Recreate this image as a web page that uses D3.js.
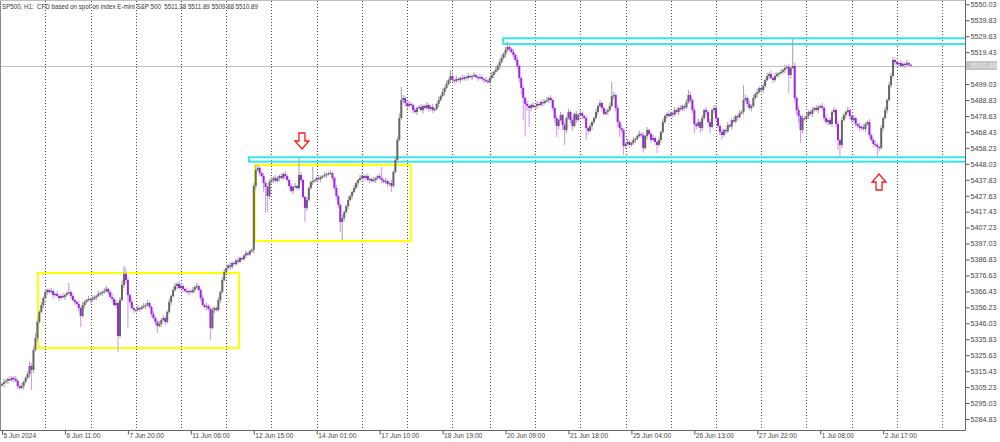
<!DOCTYPE html>
<html><head><meta charset="utf-8">
<script src="https://cdn.jsdelivr.net/npm/d3@7"></script>
<style>
body{margin:0;background:#fff}
svg{display:block}
text{font-family:"Liberation Sans",Arial,sans-serif}
</style>
</head><body>
<svg id="c" width="1000" height="442"></svg>
<script>
// ---- data (H1 closes, one row per trading day) ----
const closes = [
5307.2,5308.5,5309.2,5310.4,5309.8,5311.1,5310.4,5309.2,5305.9,5304.7,5305.9,5308.5,5311.1,5313.6,5318.7,5316.2,5329.0,5336.6,5346.9,5353.3,5357.7,5362.2,
5366.0,5367.3,5366.0,5366.7,5364.1,5364.8,5363.5,5362.2,5363.5,5362.9,5364.1,5365.4,5366.0,5363.5,5360.9,5359.7,5358.4,5355.8,5350.7,5357.7,5359.7,5360.9,5361.6,
5360.9,5361.6,5362.9,5363.5,5364.8,5365.4,5366.0,5366.7,5368.0,5366.0,5362.9,5361.6,5357.7,5359.0,5337.9,5360.9,5370.5,5377.6,5373.7,5364.1,5359.7,5355.8,5354.5,
5354.5,5355.8,5355.2,5356.5,5357.1,5357.7,5359.0,5356.5,5352.0,5349.4,5346.9,5344.3,5345.6,5348.2,5349.4,5346.9,5353.3,5359.7,5363.5,5367.3,5369.9,5371.2,5368.6,
5369.9,5368.0,5366.7,5366.0,5366.7,5366.0,5367.3,5369.2,5369.9,5367.3,5362.2,5357.7,5356.5,5357.1,5355.2,5343.0,5354.5,5355.8,5354.5,5360.9,5366.0,5373.7,5378.8,
5381.4,5383.0,5382.1,5384.6,5384.0,5386.2,5385.4,5387.8,5387.0,5389.4,5390.8,5390.1,5392.3,5392.9,5433.8,5444.1,5445.4,5442.1,5440.2,5435.7,5433.2,5427.4,5436.4,
5437.7,5438.9,5437.0,5438.9,5440.2,5438.9,5441.5,5440.2,5437.7,5433.8,5430.6,5433.2,5433.8,5432.5,5440.9,5437.7,5426.8,5419.8,5424.9,5432.5,5436.4,5437.0,5437.7,
5438.9,5438.3,5439.6,5440.2,5440.9,5441.5,5442.1,5442.1,5438.9,5432.5,5427.4,5421.7,5410.8,5413.4,5417.2,5421.0,5424.9,5427.4,5430.0,5432.5,5435.7,5437.7,5438.9,
5440.2,5438.9,5440.2,5437.7,5438.3,5437.0,5437.7,5438.9,5440.2,5438.9,5437.7,5436.4,5437.0,5435.1,5435.7,5433.8,5442.8,5450.5,5463.3,5477.3,5488.8,5490.1,5486.9,
5485.0,5486.3,5485.6,5482.4,5481.2,5483.7,5484.4,5482.4,5485.0,5483.7,5485.6,5483.1,5484.4,5482.4,5483.1,5486.3,5488.8,5491.4,5493.9,5496.5,5499.1,5501.6,5504.2,
5501.6,5501.0,5502.3,5501.6,5502.9,5502.3,5503.5,5502.9,5504.2,5503.5,5504.2,5504.8,5503.5,5502.9,5503.5,5502.3,5501.6,5501.0,5500.3,
5502.9,5504.8,5506.7,5508.0,5510.6,5513.1,5515.7,5518.3,5520.8,5522.7,5521.4,5519.5,5517.6,5514.4,5510.6,5502.9,5496.5,5490.1,5486.3,5485.0,5483.7,5485.6,5484.4,
5485.0,5486.3,5485.6,5487.5,5486.9,5488.2,5488.8,5490.1,5488.8,5483.7,5477.3,5472.2,5476.0,5479.2,5472.8,5469.6,5477.3,5481.2,5476.0,5472.2,5479.9,5476.0,5479.2,
5480.5,5478.6,5477.3,5470.9,5469.0,5472.2,5474.7,5477.3,5481.2,5485.0,5486.9,5483.7,5479.9,5481.2,5482.4,5485.0,5491.4,5492.0,5483.7,5474.7,5470.9,5469.6,5459.4,
5460.7,5462.0,5460.1,5461.3,5463.3,5463.9,5465.8,5467.1,5466.4,5458.1,5465.8,5469.6,5467.1,5463.3,5464.5,5462.0,5460.1,5463.3,5468.4,5474.7,5478.6,5479.9,5478.6,
5480.5,5479.6,5482.4,5481.2,5483.7,5482.9,5485.0,5484.1,5487.5,5492.0,5488.8,5482.4,5473.5,5472.2,5474.7,5470.9,5477.3,5482.4,5481.2,5474.7,5471.6,5482.4,5483.7,
5477.3,5472.2,5468.4,5466.4,5469.6,5468.8,5472.8,5471.9,5476.0,5475.1,5478.6,5477.8,5480.5,5481.2,5488.8,5490.1,5486.3,5483.7,5485.0,5490.1,5492.7,5493.9,5496.5,
5495.2,5497.8,5501.6,5504.2,5505.5,5502.9,5501.6,5504.2,5505.5,5506.1,5506.7,5508.0,5509.3,5510.0,5504.8,5509.3,5510.6,5490.1,5482.4,5478.6,5469.6,5477.3,5476.7,
5478.6,5481.2,5479.9,5482.4,5483.7,5482.4,5484.4,5485.0,5483.7,5477.3,5474.7,5476.0,5473.5,5481.2,5482.4,5473.5,5463.3,5460.1,5476.0,5479.2,5481.2,5482.4,5478.6,
5476.0,5477.3,5473.5,5472.2,5470.9,5471.6,5470.3,5473.5,5474.7,5466.4,5463.3,5460.7,5460.1,5458.8,5458.1,5470.9,5477.3,5482.4,5488.8,5498.4,5504.2,5514.4,5513.1,
5511.9,5512.5,5510.6,5511.9,5511.2,5512.5,5511.38,5510.89
];
const firstOpen = 5306.4;
// upper / lower shadow length (points) beyond the body
const wickUp = [
1,2,1,1,2,1,1,2,1,1,2,1,1,2,3,2,2,3,2,1,2,1,
2,1,1,2,1,1,2,1,1,2,1,1,5.8,1,2,1,1,2,1,2,1,1,2,
1,2,1,1,2,1,1,2,2,1,1,2,1,2,1,2,3,5.1,4,2,1,2,1,
1,2,1,1,2,1,2,1,1,2,1,1,2,1,2,1,1,2,1,2,2,1,2,
2,1,1,2,1,1,2,1,2,1,1,2,1,2,1,1,2,1,1,2,1,2,2,
1,1,2,1,1,1,2,1,1,1,2,1,1,1,2,3,2,1,1,2,1,1,2,
2,1,2,1,1,2,1,2,1,1,2,1,2,1,10.8,2,1,1,2,1,1,9,1,
1,2,1,1,2,1,1,2,1,1,2,1,1,2,1,1,2,1,1,2,1,1,2,
2,1,1,2,1,1,2,1,1,2,7.1,1,2,1,1,2,1,2,2,3,8.3,2,1,
1,2,1,1,2,1,1,2,1,1,2,1,1,2,1,1,2,1,2,1,2,1,3.8,
1,1,2,1,1,2,1,1,2,1,1,2,1,1,2,1,1,2,1,
1,2,1,2,1,2,2,1,2,3.2,2,1,2,1,2,1,1,2,1,2,1,1,2,
1,2,1,1,2,1,2,1,2,1,1,2,1,2,1,2,1,2,1,2,1,2,1,
2,1,1,2,1,2,1,1,2,1,2,1,1,2,1,2,9,2,1,2,1,2,1,
1,2,1,1,2,1,1,2,1,2,1,2,1,1,2,1,1,2,1,2,1,1,2,
1,1,2,1,1,2,1,1,2,3.2,2,1,2,1,2,1,2,1,2,1,2,1,2,
2,1,1,2,1,1,2,1,1,2,1,1,2,1,9.6,2,1,2,1,2,1,2,1,
1,2,1,2,1,2,1,2,1,1,2,1,2,1,2,1,17.9,2,1,2,1,2,1,
2,1,1,2,1,2,1,1,2,1,2,1,2,1,2,1,2,1,2,1,1,2,1,
1,2,1,1,2,1,2,1,1,2,1,1,2,1,1,2,1,2,1,2,2,2,1,
1,1,2,1,1,2,1,0.51
];
const wickDn = [
1,2,1,2,1,1,2,1,2,1,1,2,1,1,2,12.8,2,1,2,1,1,2,
1,2,1,1,2,1,1,2,1,1,2,1,1,2,1,2,1,2,7,1,2,1,1,
2,1,1,2,1,1,2,1,1,2,1,2,1,2,10.2,1,1,2,2,21,2,1,2,
1,1,2,1,1,2,1,1,2,1,2,4.5,1,2,1,2,1,1,2,1,1,2,1,
1,2,1,1,2,1,1,2,1,1,2,1,1,2,1,7.6,1,2,1,1,2,1,1,
1,1,2,1,1,1,2,1,1,1,2,1,1,1,2,2,1,2,1,6,16.6,10.2,2,
1,2,1,1,2,1,1,2,1,2,1,2,1,1,1,2,1,9,2,1,1,2,1,
1,1,2,1,1,2,1,1,2,1,2,2,6.4,11.5,2,1,2,1,2,1,1,2,1,
1,2,1,1,2,1,1,2,1,1,2,1,1,2,1,3.8,1,1,2,1,1,2,2,
2,1,1,2,1,2,1,1,2,1,1,2,1,2,1,1,2,1,1,2,1,1,2,
1,2,1,1,2,1,1,2,1,1,2,1,1,2,1,1,2,1,1,
1,1,2,1,1,2,1,1,2,1,2,1,2,1,2,3,4,14,21,3,12,2,1,
1,2,1,1,2,1,1,2,1,2,3,7,2,1,3,9.5,2,1,2,3,1,2,1,
1,2,1,7.6,2,1,2,1,1,2,1,2,1,1,2,1,1,2,2,3,5.7,2,5.7,
2,1,2,1,1,2,1,1,2,3,1,2,1,2,1,2,5.2,1,2,1,1,2,1,
1,2,1,1,2,1,1,2,1,1,2,2,5.8,2,1,3,2,1,2,2,4,1,2,
2,1,2,3,1,2,1,1,2,1,1,2,1,1,2,1,2,1,2,1,1,2,1,
1,2,1,1,2,1,2,1,1,2,1,1,2,1,11.5,2,1,2,3,4.5,8.3,2,1,
1,2,1,2,1,1,2,1,2,2,1,2,1,2,1,2,6.5,7.7,2,1,2,1,2,
2,1,2,1,2,1,1,2,1,2,1,2,1,7,2,1,2,1,2,1,2,1,2,
1,2,1,1,2,1,1,1.01
];
const dayStartBars = [22,45,68,91,114,137,160,183,206,229,248,271,294,317,340,363,386,409,432,455,478];
const timeLabels = ["5 Jun 2024","6 Jun 11:00","7 Jun 20:00","11 Jun 06:00","12 Jun 15:00","14 Jun 01:00","17 Jun 10:00","18 Jun 19:00","20 Jun 09:00","21 Jun 18:00","25 Jun 04:00","26 Jun 13:00","27 Jun 22:00","1 Jul 08:00","2 Jul 17:00"];
const timeLabelBars = [0,32,64,96,128,160,192,224,256,288,320,352,384,416,448];
// 5509.23 sits under the last-price label and is not shown
const priceTicks = [5550.03,5539.83,5529.63,5519.43,5499.03,5488.83,5478.63,5468.43,5458.23,5448.03,5437.83,5427.63,5417.43,5407.23,5397.03,5386.83,5376.63,5366.43,5356.23,5346.03,5335.83,5325.63,5315.43,5305.23,5295.03,5284.83];
const lastPrice = 5510.89;
const titleText = "SP500, H1:  CFD based on spot on index E-mini S&P 500  5511.38 5511.89 5509.88 5510.89";
// drawn objects (bar index / price coordinates)
const yellowBoxes = [
  {b0:18.3, b1:120.5, p0:5378.2, p1:5330.2},
  {b0:128.6, b1:207.8, p0:5447.3, p1:5398.6}
];
const cyanZones = [
  {b0:254.8, p0:5528.3, p1:5524.6},
  {b0:125.6, p0:5452.2, p1:5449.4}
];
const arrows = [
  {bar:152.5, price:5457.5, dir:"down"},
  {bar:445.9, price:5441.5, dir:"up"}
];

// ---- layout ----
const W = 1000, H = 442;
const plotR = 965.5, plotB = 430.5;
const svg = d3.select("#c");
const x = d3.scaleLinear().domain([0, 490]).range([2, 965.8]);
const y = d3.scaleLinear().domain([5277.79, 5552.14]).range([430, 1]);

svg.append("rect").attr("width", W).attr("height", H).attr("fill", "#fff");

const clip = svg.append("defs").append("clipPath").attr("id", "plot");
clip.append("rect").attr("x", 0).attr("y", 0).attr("width", plotR).attr("height", plotB);
const g = svg.append("g").attr("clip-path", "url(#plot)");

// day separators
g.selectAll("line.sep").data(dayStartBars).enter().append("line")
  .attr("x1", d => Math.round(x(d)) + 0.5).attr("x2", d => Math.round(x(d)) + 0.5)
  .attr("y1", 1).attr("y2", plotB)
  .attr("stroke", "#4a4a4a").attr("stroke-width", 1).attr("stroke-dasharray", "1,2");

// current price line
g.append("line").attr("x1", 0).attr("x2", plotR)
  .attr("y1", Math.round(y(lastPrice)) + 0.5).attr("y2", Math.round(y(lastPrice)) + 0.5)
  .attr("stroke", "#c0c0c0").attr("stroke-width", 1);

// cyan zones (double-edged rectangles extending to the right)
cyanZones.forEach(z => {
  g.append("rect")
    .attr("x", x(z.b0)).attr("y", y(z.p0))
    .attr("width", plotR + 10 - x(z.b0)).attr("height", y(z.p1) - y(z.p0))
    .attr("fill", "none").attr("stroke", "#33e6ea").attr("stroke-width", 2);
});

// yellow boxes
yellowBoxes.forEach(b => {
  g.append("rect")
    .attr("x", x(b.b0)).attr("y", y(b.p0))
    .attr("width", x(b.b1) - x(b.b0)).attr("height", y(b.p1) - y(b.p0))
    .attr("fill", "none").attr("stroke", "#ffff00").attr("stroke-width", 2);
});

// candles
const bars = closes.map((c, i) => {
  const o = i === 0 ? firstOpen : closes[i - 1];
  return {i, o, c, h: Math.max(o, c) + wickUp[i], l: Math.min(o, c) - wickDn[i], up: c >= o};
});
const cg = g.append("g");
cg.selectAll("line.wick").data(bars).enter().append("line")
  .attr("x1", d => x(d.i)).attr("x2", d => x(d.i))
  .attr("y1", d => y(d.h)).attr("y2", d => y(d.l))
  .attr("stroke", d => d.up ? "#a8a8a8" : "#d49cf2").attr("stroke-width", 1.1);
cg.selectAll("rect.body").data(bars).enter().append("rect")
  .attr("x", d => x(d.i) - 1).attr("width", 2)
  .attr("y", d => y(Math.max(d.o, d.c)))
  .attr("height", d => Math.max(1.2, Math.abs(y(d.o) - y(d.c))))
  .attr("fill", d => d.up ? "#666666" : "#9a22e0");

// arrows
arrows.forEach(a => {
  const ax = x(a.bar), ay = y(a.price);
  const s = a.dir === "down" ? -1 : 1; // tip at (ax, ay); body extends away from tip
  const pts = [
    [0, 0], [7, 8], [3, 8], [3, 16], [-3, 16], [-3, 8], [-7, 8]
  ].map(p => [ax + p[0], ay + s * p[1]]);
  g.append("polygon").attr("points", pts.map(p => p.join(",")).join(" "))
    .attr("fill", "#fff").attr("stroke", "#ff1a1a").attr("stroke-width", 1.3)
    .attr("stroke-linejoin", "miter");
});

// frame
svg.append("line").attr("x1", 0.5).attr("x2", 0.5).attr("y1", 0).attr("y2", plotB).attr("stroke", "#8a8a8a");
svg.append("line").attr("x1", 0).attr("x2", plotR).attr("y1", 0.5).attr("y2", 0.5).attr("stroke", "#bdbdbd");

// y axis
const ya = svg.append("g").attr("transform", `translate(${plotR},0)`)
  .call(d3.axisRight(y).tickValues(priceTicks).tickSize(4).tickPadding(1).tickFormat(d3.format(".2f")));
ya.select(".domain").remove();
ya.selectAll(".tick line").attr("stroke", "#555");
ya.selectAll(".tick text").attr("fill", "#444").style("font-size", "7.2px").style("font-family", '"Liberation Sans",Arial,sans-serif');
svg.append("line").attr("x1", plotR).attr("x2", plotR).attr("y1", 0).attr("y2", plotB).attr("stroke", "#666");

// x axis
const xa = svg.append("g").attr("transform", `translate(0,${plotB})`)
  .call(d3.axisBottom(x).tickValues(timeLabelBars).tickSize(4).tickFormat((d, i) => timeLabels[i]));
xa.select(".domain").remove();
xa.selectAll(".tick line").attr("stroke", "#555");
xa.selectAll(".tick text").attr("text-anchor", "start").attr("x", 1).attr("y", 3)
  .attr("fill", "#444").style("font-size", "6.6px").style("font-family", '"Liberation Sans",Arial,sans-serif');
svg.append("line").attr("x1", 0).attr("x2", plotR).attr("y1", plotB).attr("y2", plotB).attr("stroke", "#666");

// last price label on axis
const ly = y(lastPrice);
svg.append("rect").attr("x", plotR + 0.5).attr("y", ly - 4.5).attr("width", 31).attr("height", 9).attr("fill", "#c4c4c4");
svg.append("text").attr("x", plotR + 5).attr("y", ly + 2.6).text(d3.format(".2f")(lastPrice))
  .attr("fill", "#eeeeee").style("font-size", "7.2px");

// title
svg.append("text").attr("x", 2).attr("y", 8.5).text(titleText)
  .attr("fill", "#333").style("font-size", "7.2px").style("white-space", "pre")
  .attr("textLength", 256).attr("lengthAdjust", "spacingAndGlyphs");
</script>
</body></html>
